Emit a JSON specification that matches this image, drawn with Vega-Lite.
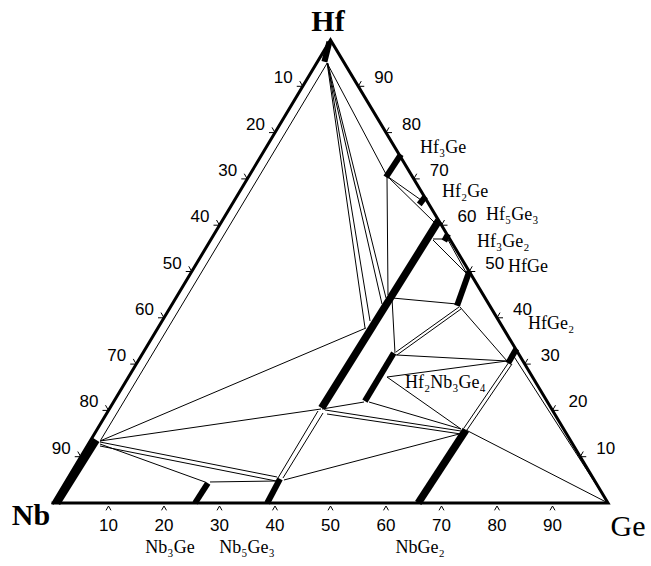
{
  "$schema": "https://vega.github.io/schema/vega-lite/v6.json",
  "width": 555,
  "height": 463,
  "autosize": {"type": "none"},
  "padding": {"left": 53, "top": 40, "right": 43, "bottom": 63},
  "background": "white",
  "config": {"view": {"stroke": null}},
  "datasets": {
    "edges": [
      {"x": 0, "y": 0, "o": 0},
      {"x": 50, "y": 100, "o": 1},
      {"x": 100, "y": 0, "o": 2},
      {"x": 0, "y": 0, "o": 3}
    ],
    "bars": [
      {"phase": "Hf(ss)", "x1": 49.8, "y1": 99.6, "x2": 48.9, "y2": 95.3},
      {"phase": "Hf3Ge", "x1": 62.7, "y1": 75.3, "x2": 60.0, "y2": 70.4},
      {"phase": "Hf2Ge", "x1": 67.1, "y1": 66.2, "x2": 66.0, "y2": 64.5},
      {"phase": "Hf3Ge2", "x1": 71.2, "y1": 58.1, "x2": 70.5, "y2": 56.6},
      {"phase": "HfGe", "x1": 75.0, "y1": 50.0, "x2": 72.8, "y2": 42.6},
      {"phase": "HfGe2", "x1": 83.5, "y1": 33.3, "x2": 82.0, "y2": 30.2},
      {"phase": "Hf2Nb3Ge4", "x1": 61.4, "y1": 32.4, "x2": 56.2, "y2": 22.0},
      {"phase": "Nb3Ge", "x1": 25.6, "y1": 0, "x2": 27.9, "y2": 4.3},
      {"phase": "Nb5Ge3", "x1": 38.6, "y1": 0, "x2": 40.9, "y2": 5.2}
    ],
    "widebars": [
      {"phase": "Hf5Ge3", "x1": 69.5, "y1": 61.0, "x2": 48.4, "y2": 20.5},
      {"phase": "NbGe2", "x1": 65.8, "y1": 0, "x2": 74.4, "y2": 15.8},
      {"phase": "Nb(ss)", "x1": 0.7, "y1": 0, "x2": 7.8, "y2": 13.6}
    ],
    "ties": [
      {"x1": 49.4, "y1": 95.0, "x2": 60.18, "y2": 70.63},
      {"x1": 49.4, "y1": 95.0, "x2": 56.22, "y2": 37.8},
      {"x1": 49.5, "y1": 95.0, "x2": 57.12, "y2": 39.31},
      {"x1": 49.4, "y1": 95.0, "x2": 59.28, "y2": 42.98},
      {"x1": 49.5, "y1": 95.0, "x2": 60.0, "y2": 44.28},
      {"x1": 60.18, "y1": 70.63, "x2": 60.36, "y2": 44.92},
      {"x1": 60.18, "y1": 70.63, "x2": 66.31, "y2": 65.44},
      {"x1": 60.18, "y1": 70.63, "x2": 68.83, "y2": 60.48},
      {"x1": 68.47, "y1": 56.8, "x2": 74.59, "y2": 49.46},
      {"x1": 70.99, "y1": 57.24, "x2": 74.59, "y2": 49.46},
      {"x1": 68.47, "y1": 57.02, "x2": 70.99, "y2": 57.02},
      {"x1": 61.08, "y1": 44.28, "x2": 72.79, "y2": 42.98},
      {"x1": 61.08, "y1": 44.28, "x2": 61.62, "y2": 32.4},
      {"x1": 73.15, "y1": 42.33, "x2": 61.8, "y2": 32.61},
      {"x1": 73.51, "y1": 41.9, "x2": 61.98, "y2": 31.97},
      {"x1": 73.33, "y1": 42.33, "x2": 81.8, "y2": 30.67},
      {"x1": 61.8, "y1": 31.97, "x2": 81.8, "y2": 30.67},
      {"x1": 60.18, "y1": 27.21, "x2": 81.8, "y2": 30.67},
      {"x1": 60.18, "y1": 27.21, "x2": 73.51, "y2": 15.98},
      {"x1": 56.94, "y1": 21.81, "x2": 73.51, "y2": 15.98},
      {"x1": 56.04, "y1": 21.81, "x2": 48.47, "y2": 20.3},
      {"x1": 82.16, "y1": 30.45, "x2": 74.05, "y2": 16.2},
      {"x1": 82.7, "y1": 30.02, "x2": 74.59, "y2": 15.77},
      {"x1": 82.88, "y1": 31.97, "x2": 100, "y2": 0},
      {"x1": 74.41, "y1": 15.77, "x2": 100, "y2": 0},
      {"x1": 49.0, "y1": 20.09, "x2": 73.51, "y2": 15.55},
      {"x1": 49.37, "y1": 19.22, "x2": 73.51, "y2": 14.9},
      {"x1": 47.75, "y1": 19.87, "x2": 40.54, "y2": 5.4},
      {"x1": 48.65, "y1": 19.44, "x2": 41.44, "y2": 5.4},
      {"x1": 41.62, "y1": 4.97, "x2": 73.87, "y2": 15.12},
      {"x1": 8.47, "y1": 13.39, "x2": 56.4, "y2": 37.8},
      {"x1": 8.47, "y1": 13.39, "x2": 48.29, "y2": 20.3},
      {"x1": 8.47, "y1": 12.74, "x2": 27.39, "y2": 4.54},
      {"x1": 8.47, "y1": 13.17, "x2": 40.36, "y2": 5.62},
      {"x1": 8.47, "y1": 12.31, "x2": 40.18, "y2": 4.75},
      {"x1": 28.29, "y1": 4.54, "x2": 40.18, "y2": 4.75},
      {"x1": 49.4, "y1": 95.0, "x2": 8.6, "y2": 13.6}
    ],
    "bottomTicks": [
      {"x": 10, "y": 0, "t": "10"}, {"x": 20, "y": 0, "t": "20"}, {"x": 30, "y": 0, "t": "30"},
      {"x": 40, "y": 0, "t": "40"}, {"x": 50, "y": 0, "t": "50"}, {"x": 60, "y": 0, "t": "60"},
      {"x": 70, "y": 0, "t": "70"}, {"x": 80, "y": 0, "t": "80"}, {"x": 90, "y": 0, "t": "90"}
    ],
    "leftTicks": [
      {"x": 45, "y": 90, "t": "10"}, {"x": 40, "y": 80, "t": "20"}, {"x": 35, "y": 70, "t": "30"},
      {"x": 30, "y": 60, "t": "40"}, {"x": 25, "y": 50, "t": "50"}, {"x": 20, "y": 40, "t": "60"},
      {"x": 15, "y": 30, "t": "70"}, {"x": 10, "y": 20, "t": "80"}, {"x": 5, "y": 10, "t": "90"}
    ],
    "rightTicks": [
      {"x": 95, "y": 10, "t": "10"}, {"x": 90, "y": 20, "t": "20"}, {"x": 85, "y": 30, "t": "30"},
      {"x": 80, "y": 40, "t": "40"}, {"x": 75, "y": 50, "t": "50"}, {"x": 70, "y": 60, "t": "60"},
      {"x": 65, "y": 70, "t": "70"}, {"x": 60, "y": 80, "t": "80"}, {"x": 55, "y": 90, "t": "90"}
    ],
    "phaseLabels": [
      {"x": 66.13, "y": 76.67, "t": "Hf₃Ge"},
      {"x": 70.09, "y": 67.17, "t": "Hf₂Ge"},
      {"x": 78.02, "y": 62.2, "t": "Hf₅Ge₃"},
      {"x": 76.4, "y": 56.37, "t": "Hf₃Ge₂"},
      {"x": 81.98, "y": 50.97, "t": "HfGe"},
      {"x": 85.59, "y": 38.66, "t": "HfGe₂"},
      {"x": 63.42, "y": 25.92, "t": "Hf₂Nb₃Ge₄"}
    ],
    "bottomLabels": [
      {"x": 21.08, "y": -9.72, "t": "Nb₃Ge"},
      {"x": 34.95, "y": -9.72, "t": "Nb₅Ge₃"},
      {"x": 66.13, "y": -9.72, "t": "NbGe₂"}
    ],
    "boldVertices": [
      {"x": 49.55, "y": 103.9, "t": "Hf"},
      {"x": -3.96, "y": -2.81, "t": "Nb"}
    ],
    "plainVertices": [
      {"x": 103.6, "y": -5.18, "t": "Ge"}
    ]
  },
  "layer": [
    {
      "data": {"name": "ties"},
      "mark": {"type": "rule", "color": "black", "strokeWidth": 1},
      "encoding": {
        "x": {"field": "x1", "type": "quantitative", "scale": {"domain": [0, 100], "nice": false, "zero": false}, "axis": null},
        "y": {"field": "y1", "type": "quantitative", "scale": {"domain": [0, 100], "nice": false, "zero": false}, "axis": null},
        "x2": {"field": "x2"},
        "y2": {"field": "y2"}
      }
    },
    {
      "data": {"name": "bars"},
      "mark": {"type": "rule", "color": "black", "strokeWidth": 6},
      "encoding": {
        "x": {"field": "x1", "type": "quantitative", "scale": {"domain": [0, 100], "nice": false, "zero": false}, "axis": null},
        "y": {"field": "y1", "type": "quantitative", "scale": {"domain": [0, 100], "nice": false, "zero": false}, "axis": null},
        "x2": {"field": "x2"},
        "y2": {"field": "y2"}
      }
    },
    {
      "data": {"name": "widebars"},
      "mark": {"type": "rule", "color": "black", "strokeWidth": 7.5},
      "encoding": {
        "x": {"field": "x1", "type": "quantitative", "scale": {"domain": [0, 100], "nice": false, "zero": false}, "axis": null},
        "y": {"field": "y1", "type": "quantitative", "scale": {"domain": [0, 100], "nice": false, "zero": false}, "axis": null},
        "x2": {"field": "x2"},
        "y2": {"field": "y2"}
      }
    },
    {
      "data": {"name": "edges"},
      "mark": {"type": "line", "color": "black", "strokeWidth": 3, "strokeJoin": "miter", "strokeCap": "square"},
      "encoding": {
        "x": {"field": "x", "type": "quantitative", "scale": {"domain": [0, 100], "nice": false, "zero": false}, "axis": null},
        "y": {"field": "y", "type": "quantitative", "scale": {"domain": [0, 100], "nice": false, "zero": false}, "axis": null},
        "order": {"field": "o"}
      }
    },
    {
      "data": {"name": "bottomTicks"},
      "mark": {"type": "point", "shape": "M-0.5,0.866L0,0L0.5,0.866", "filled": false, "stroke": "black", "strokeWidth": 1, "size": 100, "yOffset": 3, "opacity": 1},
      "encoding": {
        "x": {"field": "x", "type": "quantitative", "scale": {"domain": [0, 100], "nice": false, "zero": false}, "axis": null},
        "y": {"field": "y", "type": "quantitative", "scale": {"domain": [0, 100], "nice": false, "zero": false}, "axis": null}
      }
    },
    {
      "data": {"name": "bottomTicks"},
      "mark": {"type": "text", "font": "Liberation Sans", "fontSize": 17, "align": "center", "baseline": "middle", "dy": 23, "color": "black"},
      "encoding": {
        "x": {"field": "x", "type": "quantitative", "scale": {"domain": [0, 100], "nice": false, "zero": false}, "axis": null},
        "y": {"field": "y", "type": "quantitative", "scale": {"domain": [0, 100], "nice": false, "zero": false}, "axis": null},
        "text": {"field": "t"}
      }
    },
    {
      "data": {"name": "leftTicks"},
      "mark": {"type": "point", "shape": "M-1,0L0,0L-0.5,-0.866", "filled": false, "stroke": "black", "strokeWidth": 1, "size": 144, "opacity": 1},
      "encoding": {
        "x": {"field": "x", "type": "quantitative", "scale": {"domain": [0, 100], "nice": false, "zero": false}, "axis": null},
        "y": {"field": "y", "type": "quantitative", "scale": {"domain": [0, 100], "nice": false, "zero": false}, "axis": null}
      }
    },
    {
      "data": {"name": "leftTicks"},
      "mark": {"type": "text", "font": "Liberation Sans", "fontSize": 17, "align": "right", "baseline": "middle", "dx": -10, "dy": -8, "color": "black"},
      "encoding": {
        "x": {"field": "x", "type": "quantitative", "scale": {"domain": [0, 100], "nice": false, "zero": false}, "axis": null},
        "y": {"field": "y", "type": "quantitative", "scale": {"domain": [0, 100], "nice": false, "zero": false}, "axis": null},
        "text": {"field": "t"}
      }
    },
    {
      "data": {"name": "rightTicks"},
      "mark": {"type": "point", "shape": "M1,0L0,0L0.5,-0.866", "filled": false, "stroke": "black", "strokeWidth": 1, "size": 144, "opacity": 1},
      "encoding": {
        "x": {"field": "x", "type": "quantitative", "scale": {"domain": [0, 100], "nice": false, "zero": false}, "axis": null},
        "y": {"field": "y", "type": "quantitative", "scale": {"domain": [0, 100], "nice": false, "zero": false}, "axis": null}
      }
    },
    {
      "data": {"name": "rightTicks"},
      "mark": {"type": "text", "font": "Liberation Sans", "fontSize": 17, "align": "left", "baseline": "middle", "dx": 16, "dy": -8, "color": "black"},
      "encoding": {
        "x": {"field": "x", "type": "quantitative", "scale": {"domain": [0, 100], "nice": false, "zero": false}, "axis": null},
        "y": {"field": "y", "type": "quantitative", "scale": {"domain": [0, 100], "nice": false, "zero": false}, "axis": null},
        "text": {"field": "t"}
      }
    },
    {
      "data": {"name": "phaseLabels"},
      "mark": {"type": "text", "font": "Liberation Serif", "fontSize": 18, "align": "left", "baseline": "middle", "color": "black"},
      "encoding": {
        "x": {"field": "x", "type": "quantitative", "scale": {"domain": [0, 100], "nice": false, "zero": false}, "axis": null},
        "y": {"field": "y", "type": "quantitative", "scale": {"domain": [0, 100], "nice": false, "zero": false}, "axis": null},
        "text": {"field": "t"}
      }
    },
    {
      "data": {"name": "bottomLabels"},
      "mark": {"type": "text", "font": "Liberation Serif", "fontSize": 18, "align": "center", "baseline": "middle", "color": "black"},
      "encoding": {
        "x": {"field": "x", "type": "quantitative", "scale": {"domain": [0, 100], "nice": false, "zero": false}, "axis": null},
        "y": {"field": "y", "type": "quantitative", "scale": {"domain": [0, 100], "nice": false, "zero": false}, "axis": null},
        "text": {"field": "t"}
      }
    },
    {
      "data": {"name": "boldVertices"},
      "mark": {"type": "text", "font": "Liberation Serif", "fontSize": 30, "fontWeight": "bold", "align": "center", "baseline": "middle", "color": "black"},
      "encoding": {
        "x": {"field": "x", "type": "quantitative", "scale": {"domain": [0, 100], "nice": false, "zero": false}, "axis": null},
        "y": {"field": "y", "type": "quantitative", "scale": {"domain": [0, 100], "nice": false, "zero": false}, "axis": null},
        "text": {"field": "t"}
      }
    },
    {
      "data": {"name": "plainVertices"},
      "mark": {"type": "text", "font": "Liberation Serif", "fontSize": 30, "align": "center", "baseline": "middle", "color": "black"},
      "encoding": {
        "x": {"field": "x", "type": "quantitative", "scale": {"domain": [0, 100], "nice": false, "zero": false}, "axis": null},
        "y": {"field": "y", "type": "quantitative", "scale": {"domain": [0, 100], "nice": false, "zero": false}, "axis": null},
        "text": {"field": "t"}
      }
    }
  ]
}
